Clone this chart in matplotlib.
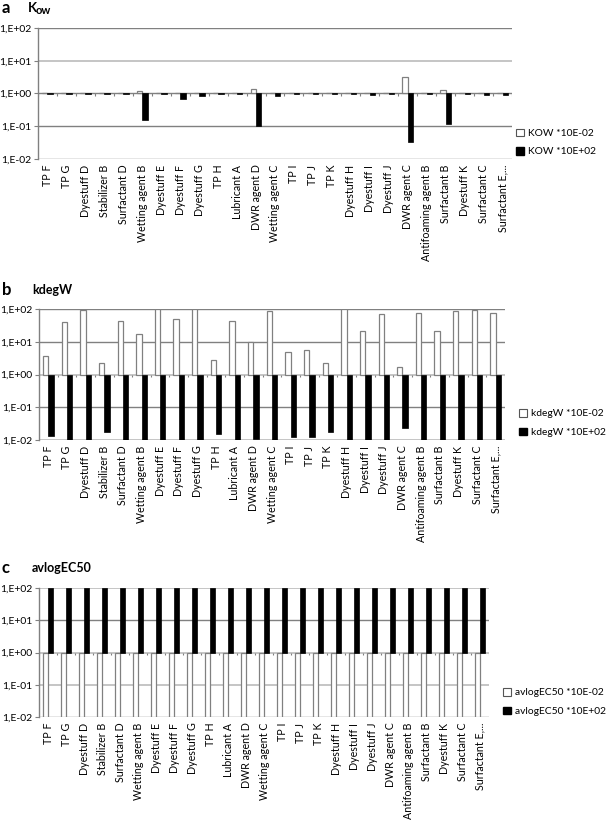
import numpy as np
import matplotlib
matplotlib.use("Agg")
import matplotlib.pyplot as plt
from matplotlib.patches import Patch

plt.rcParams['font.family'] = ['Lato', 'DejaVu Sans']

names = ["TP F", "TP G", "Dyestuff D", "Stabilizer B", "Surfactant D", "Wetting agent B",
         "Dyestuff E", "Dyestuff F", "Dyestuff G", "TP H", "Lubricant A", "DWR agent D",
         "Wetting agent C", "TP I", "TP J", "TP K", "Dyestuff H", "Dyestuff I", "Dyestuff J",
         "DWR agent C", "Antifoaming agent B", "Surfactant B", "Dyestuff K", "Surfactant C",
         "Surfactant E,..."]

# panel a : KOW
kow_lo = [1.03, 1.03, 1.03, 1.03, 1.03, 1.2, 1.03, 1.03, 1.03, 1.03, 1.03, 1.35, 1.03,
          1.03, 1.03, 1.03, 1.03, 1.03, 1.03, 3.2, 1.03, 1.3, 1.03, 1.03, 1.03]
kow_hi = [0.94, 0.94, 0.94, 0.94, 0.94, 0.16, 0.94, 0.66, 0.86, 0.94, 0.94, 0.10, 0.86,
          0.94, 0.94, 0.94, 0.94, 0.88, 0.94, 0.032, 0.97, 0.115, 0.94, 0.90, 0.87]

# panel b : kdegW
kdeg_lo = [3.8, 41, 95, 2.3, 43, 17, 100, 48, 100, 2.75, 44, 9.8, 85,
           4.8, 5.6, 2.3, 100, 21, 70, 1.7, 75, 21, 87, 95, 75]
kdeg_hi = [0.0135, 0.01, 0.01, 0.017, 0.01, 0.01, 0.01, 0.01, 0.01, 0.015, 0.01, 0.0105, 0.01,
           0.012, 0.012, 0.017, 0.01, 0.01, 0.01, 0.024, 0.01, 0.01, 0.01, 0.01, 0.01]

# panel c : avlogEC50
ec_lo = [0.01] * 25
ec_hi = [100] * 25

ytick_vals = [0.01, 0.1, 1, 10, 100]
ytick_labels = ["1,E-02", "1,E-01", "1,E+00", "1,E+01", "1,E+02"]

W, H = 608, 821
fig = plt.figure(figsize=(W / 100, H / 100), dpi=100)

dark = '#808080'
light = '#c0c0c0'

panels = [
    # letter, title, lo, hi, legend names, (left, right, top, bottom) px, legend pos px, grid colors
    ("a", None, kow_lo, kow_hi, ("KOW *10E-02", "KOW *10E+02"),
     (38, 512, 28, 159), (516, 142.5), [dark, dark, dark, light, dark], 8),
    ("b", "kdegW", kdeg_lo, kdeg_hi, ("kdegW *10E-02", "kdegW *10E+02"),
     (39, 505, 309, 440), (519, 423), [light, dark, light, dark, dark], 290),
    ("c", "avlogEC50", ec_lo, ec_hi, ("avlogEC50 *10E-02", "avlogEC50 *10E+02"),
     (39, 489, 588, 717), (503, 702), [dark, light, light, dark, light], 568),
]

n = len(names)
x = np.arange(n)
w = 1 / 3.5

for letter, title, lo, hi, leg, box, legpos, gcols, ty in panels:
    l, r, t, b = box
    ax = fig.add_axes([l / W, 1 - b / H, (r - l) / W, (b - t) / H])
    ax.set_yscale('log')
    ax.set_ylim(0.01, 100)
    ax.set_xlim(-0.5, n - 0.5)

    for yv, c in zip(ytick_vals, gcols):
        ax.axhline(yv, color=c, lw=1.3 if c == light else 1.0, zorder=0)

    lo = np.array(lo)
    hi = np.array(hi)
    ax.bar(x - w / 2, lo - 1, bottom=1, width=w, color='white', edgecolor=dark, lw=0.9, zorder=2)
    ax.bar(x + w / 2, hi - 1, bottom=1, width=w, color='black', edgecolor='black', lw=0.5, zorder=2)

    # category tick marks on the axis crossing at 1
    ax.vlines(np.arange(n + 1) - 0.5, 0.82, 1.0, color=dark, lw=0.8, zorder=1)

    ax.set_yticks(ytick_vals)
    ax.set_yticklabels(ytick_labels, fontsize=7.5)
    ax.minorticks_off()
    ax.tick_params(axis='y', length=3, color=dark, width=0.8, pad=2)
    ax.set_xticks(x)
    ax.set_xticklabels(names, rotation=90, fontsize=7.7)
    ax.tick_params(axis='x', length=0, pad=4)
    for s in ['top', 'right', 'bottom']:
        ax.spines[s].set_visible(False)
    ax.spines['left'].set_color(dark)
    ax.spines['left'].set_linewidth(1.0)

    handles = [Patch(facecolor='white', edgecolor='#555555', lw=0.8),
               Patch(facecolor='black', edgecolor='black')]
    fig.legend(handles, leg, loc='center left',
               bbox_to_anchor=(legpos[0] / W, 1 - legpos[1] / H),
               frameon=False, fontsize=7.4, handlelength=0.75, handleheight=0.75,
               handletextpad=0.4, labelspacing=0.9, borderpad=0, borderaxespad=0)

    fig.text(2 / W, 1 - ty / H, letter, fontsize=12, fontweight='bold', va='center', ha='left')
    if title is not None:
        fig.text(32 / W, 1 - ty / H, title, fontsize=9, fontweight='bold', va='center', ha='left')
    else:
        fig.text(28 / W, 1 - ty / H, "K", fontsize=9.5, fontweight='bold', va='center', ha='left')
        fig.text(35.5 / W, 1 - (ty + 3) / H, "ow", fontsize=8, fontweight='bold', va='center', ha='left')

fig.savefig("out.png", dpi=100)
